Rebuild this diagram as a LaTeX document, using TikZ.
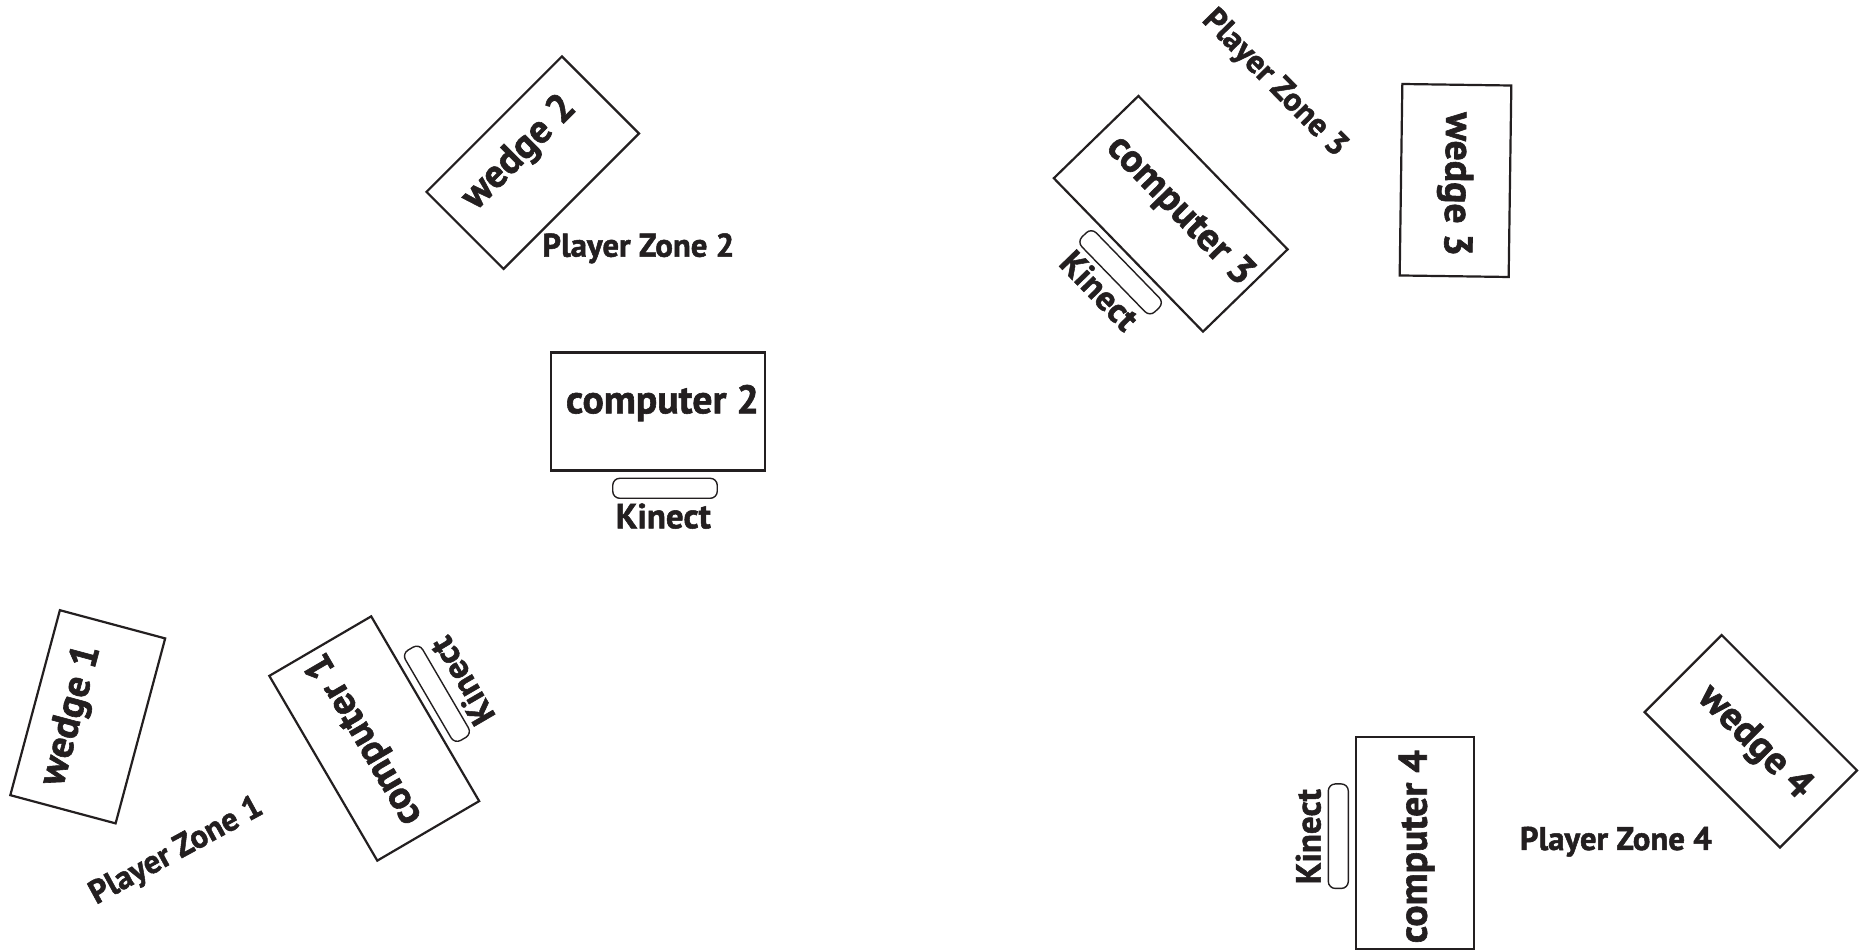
\documentclass[tikz,border=0pt]{standalone}
\usepackage{fontspec}
\setmainfont{PT Sans}[BoldFeatures={FakeBold=1.5}]
\definecolor{ink}{HTML}{231F20}
\newlength\mymeasure
\newcommand\myBigFont{\fontsize{\BigSz pt}{\BigSz pt}\selectfont\bfseries}
\newcommand\myPZFont{\fontsize{\PZSz pt}{\PZSz pt}\selectfont\bfseries}
\newcommand\myKFont{\fontsize{\KSz pt}{\KSz pt}\selectfont\bfseries}
\AtBeginDocument{%
\settowidth\mymeasure{\fontsize{10pt}{12pt}\selectfont\bfseries computer 2}%
\pgfmathsetmacro\BigSz{10*193/\mymeasure}%
\settowidth\mymeasure{\fontsize{10pt}{12pt}\selectfont\bfseries Player Zone 2}%
\pgfmathsetmacro\PZSz{10*192/\mymeasure}%
\settowidth\mymeasure{\fontsize{10pt}{12pt}\selectfont\bfseries Kinect}%
\pgfmathsetmacro\KSz{10*95/\mymeasure}%
}
\begin{document}
\begin{tikzpicture}[x=1pt,y=1pt,
  box/.style={draw=ink, line width=2.2pt, rectangle, inner sep=0pt, minimum width=214pt, minimum height=118pt},
  wbox/.style={draw=ink, line width=2.2pt, rectangle, inner sep=0pt, minimum width=191.5pt, minimum height=109pt},
  kbar/.style={draw=ink, line width=1.4pt, rectangle, rounded corners=7pt, inner sep=0pt, minimum width=104.5pt, minimum height=20pt},
  biglabel/.style={font=\myBigFont, text=ink, inner sep=0pt, anchor=base},
  pzlabel/.style={font=\myPZFont, text=ink, inner sep=0pt, anchor=base},
  klabel/.style={font=\myKFont, text=ink, inner sep=0pt, anchor=base}]
\fill[white] (0,0) rectangle (1865,950);
\useasboundingbox (0,0) rectangle (1865,950);

% computer 2 group
\begin{scope}[shift={(658,538.4)}]
  \node[box] (comp2) at (0,0) {};
  \node[biglabel] (comp2t) at (4.5,-1.7) {computer 2};
  \node[kbar] (kin2) at (7,-76.7) {};
  \node[klabel] (kin2t) at (5.3,-116.7) {Kinect};
\end{scope}

% computer 1 group
\begin{scope}[shift={(374.25,211.5)}, rotate=120.3, transform shape]
  \node[box] (comp1) at (0,0) {};
  \node[biglabel] (comp1t) at (4.5,-1.7) {computer 1};
  \node[kbar] (kin1) at (7,-76.7) {};
  \node[klabel] (kin1t) at (5.3,-116.7) {Kinect};
\end{scope}

% computer 3 group
\begin{scope}[shift={(1170.7,736.2)}, rotate=-45.8, transform shape]
  \node[box] (comp3) at (0,0) {};
  \node[biglabel] (comp3t) at (4.5,-1.7) {computer 3};
  \node[kbar] (kin3) at (7,-76.7) {};
  \node[klabel] (kin3t) at (5.3,-116.7) {Kinect};
\end{scope}

% computer 4 group
\begin{scope}[shift={(1415.2,107.3)}, rotate=90, transform shape]
  \node[box, minimum width=212pt] (comp4) at (0,0) {};
  \node[biglabel] (comp4t) at (-4,-11.5) {computer 4};
  \node[kbar] (kin4) at (6.5,76.9) {};
  \node[klabel] (kin4t) at (6,94.7) {Kinect};
\end{scope}

% wedges
\begin{scope}[shift={(87.75,233.2)}, rotate=75, transform shape]
  \node[wbox] (wedge1) at (0,0) {};
  \node[biglabel] (wedge1t) at (-3,6) {wedge 1};
\end{scope}
\begin{scope}[shift={(532.75,787.3)}, rotate=45, transform shape]
  \node[wbox] (wedge2) at (0,0) {};
  \node[biglabel] (wedge2t) at (-2.7,5.9) {wedge 2};
\end{scope}
\begin{scope}[shift={(1455.5,769.5)}, rotate=-90.8, transform shape]
  \node[wbox] (wedge3) at (0,0) {};
  \node[biglabel] (wedge3t) at (3.7,-10) {wedge 3};
\end{scope}
\begin{scope}[shift={(1750.8,208.7)}, rotate=-45, transform shape]
  \node[wbox] (wedge4) at (0,0) {};
  \node[biglabel] (wedge4t) at (3.3,-8.4) {wedge 4};
\end{scope}

% player zones
\node[pzlabel, rotate=28.6] (pz1) at (180.6,91.2) {Player Zone 1};
\node[pzlabel] (pz2) at (638.3,693.3) {Player Zone 2};
\node[pzlabel, rotate=-45.5] (pz3) at (1268.4,860.5) {Player Zone 3};
\node[pzlabel] (pz4) at (1615.8,100) {Player Zone 4};
\end{tikzpicture}
\end{document}
